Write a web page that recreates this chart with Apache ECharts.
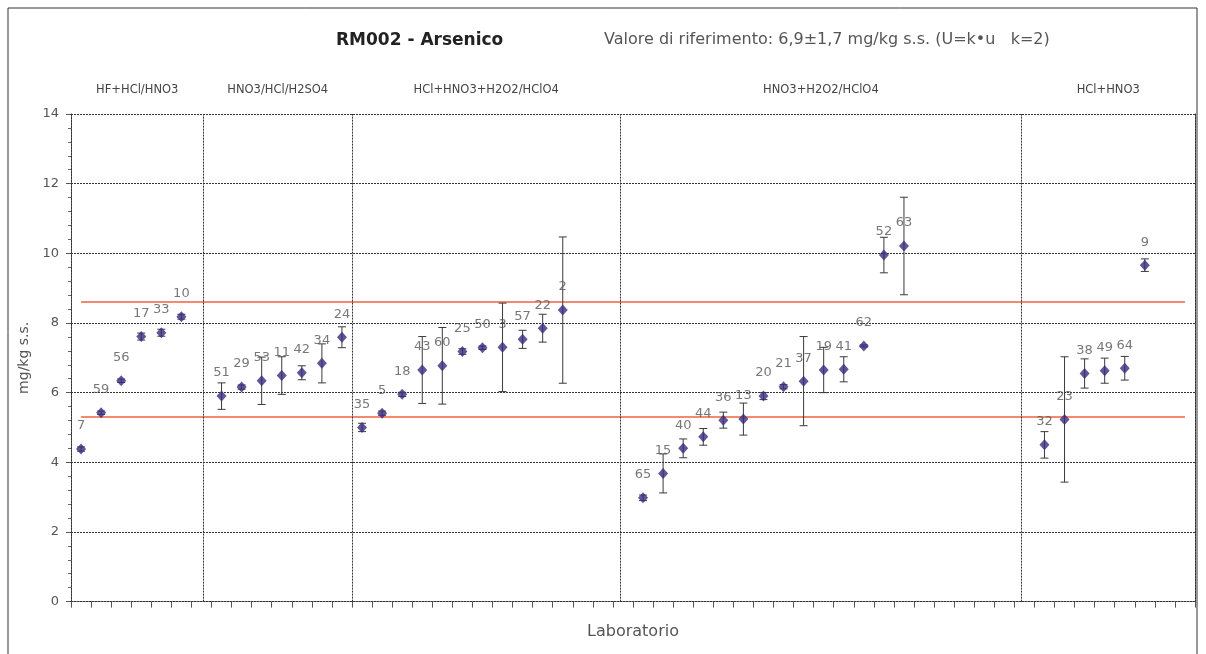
<!DOCTYPE html>
<html>
<head>
<meta charset="utf-8">
<title>RM002 - Arsenico</title>
<script src="https://cdn.jsdelivr.net/npm/echarts@6/dist/echarts.min.js"></script>
<style>
  html, body { margin: 0; padding: 0; background: #fff; }
  #chart { width: 1206px; height: 654px; }
</style>
</head>
<body>
<div id="chart"></div>
<script>
// Laboratory codes, one per slot on the x axis ('' = empty slot)
const labCodes = [
  '7', '59', '56', '17', '33', '10', '',
  '51', '29', '53', '11', '42', '34', '24',
  '35', '5', '18', '43', '60', '25', '50', '3', '57', '22', '2', '', '', '',
  '65', '15', '40', '44', '36', '13', '20', '21', '37', '19', '41', '62', '52', '63', '', '', '', '', '', '',
  '32', '23', '38', '49', '64', '9', '', ''
];

// Reported arsenic values (mg/kg s.s.)
const labValues = [
  4.38, 5.42, 6.34, 7.61, 7.72, 8.18, null,
  5.90, 6.16, 6.34, 6.49, 6.57, 6.84, 7.59,
  5.00, 5.41, 5.95, 6.65, 6.77, 7.18, 7.29, 7.30, 7.53, 7.85, 8.37, null, null, null,
  2.98, 3.68, 4.40, 4.73, 5.21, 5.24, 5.90, 6.17, 6.33, 6.65, 6.67, 7.34, 9.95, 10.21, null, null, null, null, null, null,
  4.50, 5.23, 6.55, 6.63, 6.70, 9.66, null, null
];

// Declared expanded uncertainty (±, mg/kg s.s.)
const labUncertainty = [
  0.06, 0.05, 0.05, 0.10, 0.10, 0.07, null,
  0.38, 0.06, 0.68, 0.54, 0.20, 0.56, 0.30,
  0.12, 0.06, 0.06, 0.96, 1.10, 0.08, 0.05, 1.27, 0.26, 0.40, 2.10, null, null, null,
  0.08, 0.56, 0.27, 0.24, 0.23, 0.46, 0.10, 0.06, 1.28, 0.65, 0.36, 0.03, 0.51, 1.40, null, null, null, null, null, null,
  0.38, 1.80, 0.42, 0.36, 0.34, 0.18, null, null
];

// Digestion methods and where each block starts / ends on the slot scale
const methodNames = ['HF+HCl/HNO3', 'HNO3/HCl/H2SO4', 'HCl+HNO3+H2O2/HClO4', 'HNO3+H2O2/HClO4', 'HCl+HNO3'];
const methodBreaks = [0, 6.6, 14, 27.37, 47.35, 56];

// Acceptance limits around the reference value 6,9 ± 1,7
const limitValues = [5.3, 8.6];

const yTicks = { min: 0, max: 14, step: 2 };

const FONT = 'DejaVu Sans';
const slotCount = labCodes.length;

const points = [];
labValues.forEach((v, i) => {
  if (v != null) points.push({ value: [i + 0.5, v, labUncertainty[i]], name: labCodes[i] });
});

const areaData = methodNames.map((name, k) => [
  { xAxis: methodBreaks[k], name: name },
  { xAxis: methodBreaks[k + 1] }
]);
const dividerData = methodBreaks.slice(1, -1).map(x => ({ xAxis: x }));

const limitSeries = limitValues.map(v => ({
  type: 'line',
  data: [[0.5, v], [slotCount - 0.5, v]],
  symbol: 'none',
  silent: true,
  z: 1,
  lineStyle: { color: '#f0623f', width: 1.5 }
}));

const dotted = [2, 1];

const chart = echarts.init(document.getElementById('chart'), null, { renderer: 'canvas' });
chart.setOption({
  animation: false,
  backgroundColor: '#fff',
  title: [
    {
      text: 'RM002 - Arsenico', left: 336, top: 32, padding: 0,
      textStyle: { fontFamily: FONT, fontWeight: 'bold', fontSize: 17, color: '#222' }
    },
    {
      text: 'Valore di riferimento: 6,9±1,7 mg/kg s.s. (U=k•u   k=2)', left: 604, top: 32, padding: 0,
      textStyle: { fontFamily: FONT, fontWeight: 'normal', fontSize: 16, color: '#555' }
    }
  ],
  graphic: [
    {
      type: 'rect', silent: true,
      shape: { x: 8, y: 8, width: 1189, height: 700 },
      style: { fill: 'none', stroke: '#333', lineWidth: 1 }
    }
  ],
  grid: { left: 71, right: 11, top: 114, bottom: 52.4 },
  xAxis: {
    type: 'value', min: 0, max: slotCount, interval: 1,
    name: 'Laboratorio', nameLocation: 'middle', nameGap: 22,
    nameTextStyle: { fontFamily: FONT, fontSize: 16, color: '#555' },
    axisLine: { lineStyle: { color: '#333', type: dotted } },
    axisTick: { show: true, length: 6, lineStyle: { color: '#555' } },
    axisLabel: { show: false },
    splitLine: { show: false }
  },
  yAxis: [
    {
      type: 'value', min: yTicks.min, max: yTicks.max, interval: yTicks.step,
      name: 'mg/kg s.s.', nameLocation: 'middle', nameGap: 38,
      nameTextStyle: { fontFamily: FONT, fontSize: 14, color: '#555' },
      axisLine: { show: true, lineStyle: { color: '#333', type: dotted } },
      axisTick: { show: true, length: 5, lineStyle: { color: '#555' } },
      minorTick: { show: true, splitNumber: 5, length: 3, lineStyle: { color: '#666' } },
      axisLabel: { fontFamily: FONT, fontSize: 13, color: '#555', margin: 12 },
      splitLine: { show: true, lineStyle: { color: '#333', type: dotted } }
    },
    {
      type: 'value', min: yTicks.min, max: yTicks.max, interval: yTicks.step, position: 'right',
      axisLine: { show: true, lineStyle: { color: '#333', type: dotted } },
      axisTick: { show: false }, axisLabel: { show: false }, splitLine: { show: false }
    }
  ],
  series: [
    ...limitSeries,
    {
      type: 'custom',
      name: 'incertezza',
      silent: true,
      z: 3,
      data: points.map(p => p.value),
      renderItem: function (params, api) {
        const x = api.value(0), v = api.value(1), u = api.value(2);
        const hi = api.coord([x, v + u]);
        const lo = api.coord([x, v - u]);
        const cap = 4;
        const style = { stroke: '#3a3a3a', lineWidth: 1 };
        return {
          type: 'group',
          children: [
            { type: 'line', shape: { x1: hi[0], y1: hi[1], x2: lo[0], y2: lo[1] }, style },
            { type: 'line', shape: { x1: hi[0] - cap, y1: hi[1], x2: hi[0] + cap, y2: hi[1] }, style },
            { type: 'line', shape: { x1: lo[0] - cap, y1: lo[1], x2: lo[0] + cap, y2: lo[1] }, style }
          ]
        };
      }
    },
    {
      type: 'scatter',
      name: 'Laboratori',
      z: 4,
      symbol: 'diamond',
      symbolSize: [10, 11],
      itemStyle: { color: '#382b7c' },
      data: points,
      label: {
        show: true, position: 'top', distance: 11,
        formatter: p => p.name,
        fontFamily: FONT, fontSize: 13, color: '#555'
      },
      markArea: {
        silent: true,
        itemStyle: { color: 'rgba(0,0,0,0)' },
        label: {
          show: true, position: 'top', distance: 18,
          fontFamily: FONT, fontSize: 11.5, color: '#444'
        },
        data: areaData
      },
      markLine: {
        silent: true,
        symbol: 'none',
        label: { show: false },
        lineStyle: { color: '#333', type: dotted, width: 1 },
        data: dividerData
      }
    }
  ]
});
</script>
</body>
</html>
